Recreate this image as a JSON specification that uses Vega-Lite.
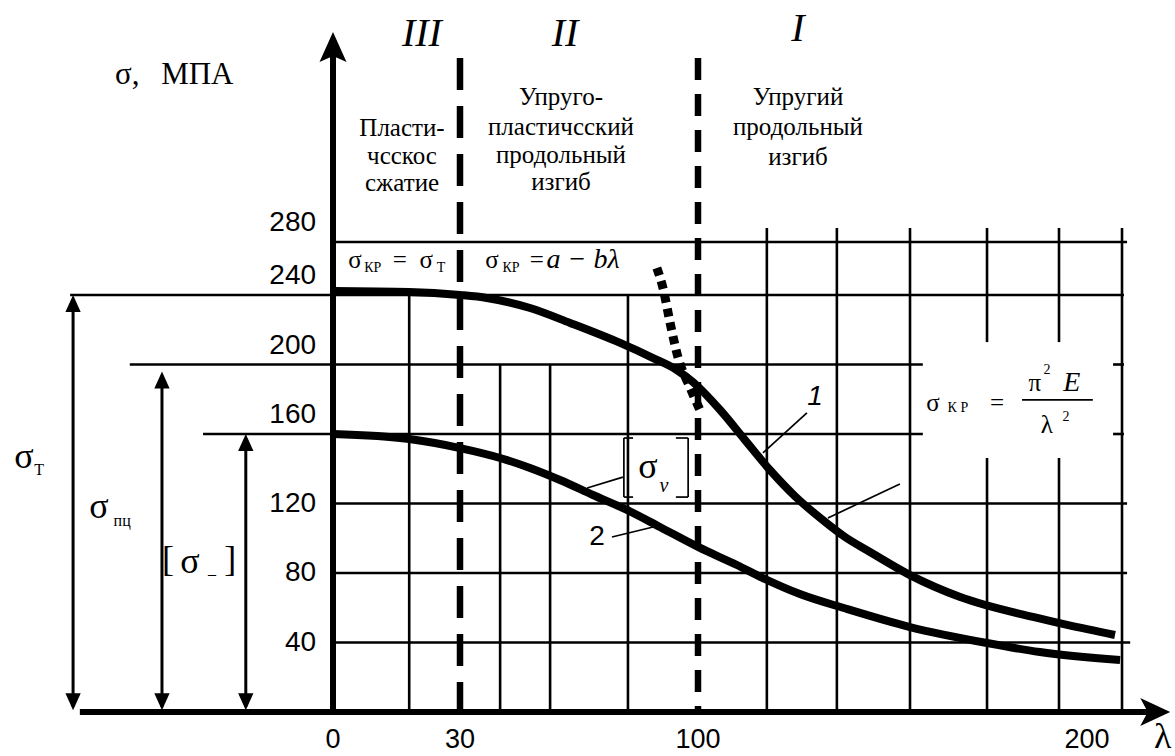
{
  "$schema": "https://vega.github.io/schema/vega-lite/v6.json",
  "width": 1175,
  "height": 756,
  "autosize": {"type": "none"},
  "padding": 0,
  "background": "white",
  "config": {"view": {"stroke": null}},
  "datasets": {
    "grid": [
      {"l": 18, "s": 0, "l2": 18, "s2": 240},
      {"l": 41.8, "s": 0, "l2": 41.8, "s2": 200},
      {"l": 56.5, "s": 0, "l2": 56.5, "s2": 200},
      {"l": 79.4, "s": 0, "l2": 79.4, "s2": 240},
      {"l": 117.7, "s": 0, "l2": 117.7, "s2": 290.6},
      {"l": 135.7, "s": 0, "l2": 135.7, "s2": 290.6},
      {"l": 154.5, "s": 0, "l2": 154.5, "s2": 290.6},
      {"l": 174.3, "s": 0, "l2": 174.3, "s2": 146.2},
      {"l": 174.3, "s": 212.9, "l2": 174.3, "s2": 290.6},
      {"l": 192.8, "s": 0, "l2": 192.8, "s2": 146.2},
      {"l": 192.8, "s": 212.9, "l2": 192.8, "s2": 290.6},
      {"l": 209, "s": 0, "l2": 209, "s2": 290.6},
      {"l": 0, "s": 280, "l2": 210.3, "s2": 280},
      {"l": -62.1, "s": 240, "l2": 209.5, "s2": 240},
      {"l": -48, "s": 200, "l2": 157.8, "s2": 200},
      {"l": 206.7, "s": 200, "l2": 209.5, "s2": 200},
      {"l": -30.7, "s": 160, "l2": 157.8, "s2": 160},
      {"l": 206.7, "s": 160, "l2": 209.5, "s2": 160},
      {"l": 0, "s": 120, "l2": 210.3, "s2": 120},
      {"l": 0, "s": 80, "l2": 210.3, "s2": 80},
      {"l": 0, "s": 40, "l2": 211.1, "s2": 40}
    ],
    "axes": [
      {"l": 0, "s": 0, "l2": 0, "s2": 425},
      {"l": -59.8, "s": 0, "l2": 216, "s2": 0}
    ],
    "shafts": [
      {"l": -61.4, "s": 3, "l2": -61.4, "s2": 235},
      {"l": -40.4, "s": 3, "l2": -40.4, "s2": 191},
      {"l": -20.6, "s": 3, "l2": -20.6, "s2": 155}
    ],
    "headsUp": [
      {"l": -61.4, "s": 240},
      {"l": -40.4, "s": 196},
      {"l": -20.6, "s": 160}
    ],
    "headsDown": [
      {"l": -61.4, "s": 1},
      {"l": -40.4, "s": 1},
      {"l": -20.6, "s": 1}
    ],
    "yTip": [{"l": 0, "s": 438.5}],
    "xTip": [{"l": 221.4, "s": 0}],
    "dash30": [{"l": 30, "s": 418.9, "l2": 30, "s2": 0}],
    "dash100": [{"l": 100, "s": 418.9, "l2": 100, "s2": 0}],
    "curves": [
      {"c": "1", "l": 0, "s": 243},
      {"c": "1", "l": 18, "s": 242.3},
      {"c": "1", "l": 30, "s": 240},
      {"c": "1", "l": 37.9, "s": 238.3},
      {"c": "1", "l": 50.6, "s": 232.5},
      {"c": "1", "l": 62.4, "s": 223.9},
      {"c": "1", "l": 77.1, "s": 212.4},
      {"c": "1", "l": 86.8, "s": 203.7},
      {"c": "1", "l": 93.8, "s": 196.8},
      {"c": "1", "l": 98.5, "s": 189.9},
      {"c": "1", "l": 105.7, "s": 173.8},
      {"c": "1", "l": 112.1, "s": 156.5},
      {"c": "1", "l": 118.5, "s": 139.3},
      {"c": "1", "l": 124.9, "s": 124.3},
      {"c": "1", "l": 131.4, "s": 111.7},
      {"c": "1", "l": 137.8, "s": 100.7},
      {"c": "1", "l": 144.2, "s": 92.1},
      {"c": "1", "l": 154.5, "s": 78.8},
      {"c": "1", "l": 167.4, "s": 66.2},
      {"c": "1", "l": 186.1, "s": 54.7},
      {"c": "1", "l": 194.9, "s": 50.1},
      {"c": "1", "l": 207.2, "s": 44.3},
      {"c": "2", "l": 0, "s": 160},
      {"c": "2", "l": 18, "s": 157.1},
      {"c": "2", "l": 30, "s": 151.9},
      {"c": "2", "l": 41.8, "s": 146.2},
      {"c": "2", "l": 50.6, "s": 140.4},
      {"c": "2", "l": 59.4, "s": 133.5},
      {"c": "2", "l": 69.1, "s": 124.9},
      {"c": "2", "l": 79.1, "s": 116.3},
      {"c": "2", "l": 88.8, "s": 106.5},
      {"c": "2", "l": 100, "s": 95},
      {"c": "2", "l": 110, "s": 84.6},
      {"c": "2", "l": 116.7, "s": 77.1},
      {"c": "2", "l": 126.2, "s": 67.9},
      {"c": "2", "l": 138.3, "s": 59.3},
      {"c": "2", "l": 154.5, "s": 48.9},
      {"c": "2", "l": 174.3, "s": 39.7},
      {"c": "2", "l": 187.9, "s": 34.5},
      {"c": "2", "l": 208.5, "s": 29.9}
    ],
    "euler": [
      {"l": 87.9, "s": 260.4},
      {"l": 89.7, "s": 245.3},
      {"l": 91.8, "s": 223.9},
      {"l": 94.1, "s": 204.3},
      {"l": 97.6, "s": 187},
      {"l": 100.5, "s": 173.8}
    ],
    "thin": [
      {"l": 128.0, "s": 172.1, "l2": 116.7, "s2": 149.1},
      {"l": 151.9, "s": 131.2, "l2": 133.4, "s2": 111.7},
      {"l": 77.9, "s": 135.2, "l2": 67.4, "s2": 128.9},
      {"l": 74.7, "s": 100.7, "l2": 86.8, "s2": 106.5},
      {"l": 78.2, "s": 157.7, "l2": 78.2, "s2": 123.7},
      {"l": 78.2, "s": 157.7, "l2": 80.9, "s2": 157.7},
      {"l": 78.2, "s": 123.7, "l2": 80.9, "s2": 123.7},
      {"l": 97.1, "s": 157.7, "l2": 97.1, "s2": 123.7},
      {"l": 93.5, "s": 157.7, "l2": 97.1, "s2": 157.7},
      {"l": 93.5, "s": 123.7, "l2": 97.1, "s2": 123.7},
      {"l": 183.3, "s": 179.6, "l2": 201.5, "s2": 179.6}
    ],
    "zone": [
      {"l": 16.3, "s": 366.0, "t": "Пласти-"},
      {"l": 16.3, "s": 344.9, "t": "чсскос"},
      {"l": 16.3, "s": 324.5, "t": "сжатие"},
      {"l": 59.7, "s": 389.4, "t": "Упруго-"},
      {"l": 59.7, "s": 366.8, "t": "пластичсский"},
      {"l": 59.7, "s": 345.7, "t": "продольный"},
      {"l": 59.7, "s": 325.3, "t": "изгиб"},
      {"l": 125.7, "s": 389.4, "t": "Упругий"},
      {"l": 125.7, "s": 366.8, "t": "продольный"},
      {"l": 125.7, "s": 344.2, "t": "изгиб"}
    ],
    "roman": [
      {"l": 21.0, "s": 437.0, "t": "III"},
      {"l": 60.9, "s": 437.0, "t": "II"},
      {"l": 125.7, "s": 440.8, "t": "I"}
    ],
    "unit": [
      {"l": -51.5, "s": 406.0, "t": "σ,"},
      {"l": -40.6, "s": 406.0, "t": "МПА"}
    ],
    "fmain": [
      {"l": 5.2, "s": 266.4, "t": "σ"},
      {"l": 15.8, "s": 266.4, "t": "="},
      {"l": 22.0, "s": 266.4, "t": "σ"},
      {"l": 39.4, "s": 266.4, "t": "σ"},
      {"l": 52.6, "s": 266.4, "t": "="},
      {"l": 160.4, "s": 177.8, "t": "σ"},
      {"l": 176.9, "s": 177.8, "t": "="},
      {"l": 186.6, "s": 189.3, "t": "π"},
      {"l": 189.7, "s": 165.2, "t": "λ"}
    ],
    "fsub": [
      {"l": 9.4, "s": 260.4, "t": "КР"},
      {"l": 25.5, "s": 260.4, "t": "Т"},
      {"l": 45.0, "s": 260.4, "t": "КР"},
      {"l": 166.8, "s": 175.0, "t": "К Р"},
      {"l": 189.7, "s": 196.8, "t": "2"},
      {"l": 194.6, "s": 169.8, "t": "2"}
    ],
    "fital": [
      {"l": 66.2, "s": 266.4, "t": "a − bλ"},
      {"l": 196.1, "s": 189.3, "t": "E"}
    ],
    "ticksUpper": [
      {"l": -4, "s": 280, "t": "280"},
      {"l": -4, "s": 240, "t": "240"},
      {"l": -4, "s": 200, "t": "200"},
      {"l": -4, "s": 160, "t": "160"}
    ],
    "ticksLower": [
      {"l": -4, "s": 120, "t": "120"},
      {"l": -4, "s": 80, "t": "80"},
      {"l": -4, "s": 40, "t": "40"}
    ],
    "ticksX": [
      {"l": 0, "s": 0, "t": "0"},
      {"l": 30, "s": 0, "t": "30"},
      {"l": 100, "s": 0, "t": "100"},
      {"l": 200, "s": 0, "t": "200"}
    ],
    "num1": [{"l": 130.1, "s": 181.3, "t": "1"}],
    "num2": [{"l": 70.3, "s": 100.7, "t": "2"}],
    "big": [
      {"l": -73.0, "s": 146.8, "t": "σ"},
      {"l": -55.3, "s": 118.0, "t": "σ"},
      {"l": -33.8, "s": 86.3, "t": "σ"},
      {"l": -39.0, "s": 87.5, "t": "["},
      {"l": -24.3, "s": 87.5, "t": "]"},
      {"l": 85.3, "s": 141.0, "t": "σ"},
      {"l": 219.5, "s": -14.5, "t": "λ"}
    ],
    "bigsub": [
      {"l": -69.4, "s": 139.3, "t": "Т"},
      {"l": -49.8, "s": 109.9, "t": "пц"},
      {"l": -28.6, "s": 79.4, "t": "–"}
    ],
    "nu": [{"l": 90.0, "s": 130.1, "t": "ν"}]
  },
  "encoding": {
    "x": {"field": "l", "type": "quantitative", "axis": null,
          "scale": {"domain": [0, 30, 100, 200], "range": [333, 460, 698, 1087], "nice": false, "zero": false}},
    "y": {"field": "s", "type": "quantitative", "axis": null,
          "scale": {"domain": [0, 240, 280], "range": [712, 295, 242], "nice": false, "zero": false}}
  },
  "layer": [
    {"data": {"name": "grid"}, "mark": {"type": "rule", "color": "black", "strokeWidth": 2.6},
     "encoding": {"x2": {"field": "l2"}, "y2": {"field": "s2"}}},
    {"data": {"name": "thin"}, "mark": {"type": "rule", "color": "black", "strokeWidth": 1.7},
     "encoding": {"x2": {"field": "l2"}, "y2": {"field": "s2"}}},
    {"data": {"name": "shafts"}, "mark": {"type": "rule", "color": "black", "strokeWidth": 3},
     "encoding": {"x2": {"field": "l2"}, "y2": {"field": "s2"}}},
    {"data": {"name": "headsUp"}, "mark": {"type": "point", "filled": true, "fill": "black", "opacity": 1, "strokeWidth": 0, "size": 1156, "shape": "M0,0L-0.45,1L0.45,1Z"}},
    {"data": {"name": "headsDown"}, "mark": {"type": "point", "filled": true, "fill": "black", "opacity": 1, "strokeWidth": 0, "size": 1156, "shape": "M0,0L-0.45,-1L0.45,-1Z"}},
    {"data": {"name": "dash30"}, "mark": {"type": "rule", "color": "black", "strokeWidth": 6.5, "strokeDash": [32, 16]},
     "encoding": {"x2": {"field": "l2"}, "y2": {"field": "s2"}}},
    {"data": {"name": "dash100"}, "mark": {"type": "rule", "color": "black", "strokeWidth": 6.5, "strokeDash": [22, 14]},
     "encoding": {"x2": {"field": "l2"}, "y2": {"field": "s2"}}},
    {"data": {"name": "curves"}, "mark": {"type": "line", "color": "black", "strokeWidth": 8, "interpolate": "monotone"},
     "encoding": {"detail": {"field": "c"}}},
    {"data": {"name": "euler"}, "mark": {"type": "line", "color": "black", "strokeWidth": 9, "strokeDash": [8, 6], "interpolate": "monotone"},
     "encoding": {}},
    {"data": {"name": "axes"}, "mark": {"type": "rule", "color": "black", "strokeWidth": 6},
     "encoding": {"x2": {"field": "l2"}, "y2": {"field": "s2"}}},
    {"data": {"name": "yTip"}, "mark": {"type": "point", "filled": true, "fill": "black", "opacity": 1, "strokeWidth": 0, "size": 3600, "shape": "M0,0L-0.45,1L0,0.8L0.45,1Z"}},
    {"data": {"name": "xTip"}, "mark": {"type": "point", "filled": true, "fill": "black", "opacity": 1, "strokeWidth": 0, "size": 3600, "shape": "M0,0L-1,-0.47L-0.75,0L-1,0.47Z"}},
    {"data": {"name": "zone"}, "mark": {"type": "text", "font": "'Liberation Serif', 'DejaVu Serif', serif", "fontSize": 25, "align": "center", "baseline": "middle", "color": "black"},
     "encoding": {"text": {"field": "t"}}},
    {"data": {"name": "roman"}, "mark": {"type": "text", "font": "'Liberation Serif', 'DejaVu Serif', serif", "fontStyle": "italic", "fontSize": 40, "align": "center", "baseline": "middle", "color": "black"},
     "encoding": {"text": {"field": "t"}}},
    {"data": {"name": "unit"}, "mark": {"type": "text", "font": "'Liberation Serif', 'DejaVu Serif', serif", "fontSize": 31, "align": "left", "baseline": "middle", "color": "black"},
     "encoding": {"text": {"field": "t"}}},
    {"data": {"name": "fmain"}, "mark": {"type": "text", "font": "'Liberation Serif', 'DejaVu Serif', serif", "fontSize": 25, "align": "center", "baseline": "middle", "color": "black"},
     "encoding": {"text": {"field": "t"}}},
    {"data": {"name": "fsub"}, "mark": {"type": "text", "font": "'Liberation Serif', 'DejaVu Serif', serif", "fontSize": 14, "align": "center", "baseline": "middle", "color": "black"},
     "encoding": {"text": {"field": "t"}}},
    {"data": {"name": "fital"}, "mark": {"type": "text", "font": "'Liberation Serif', 'DejaVu Serif', serif", "fontStyle": "italic", "fontSize": 28, "align": "center", "baseline": "middle", "color": "black"},
     "encoding": {"text": {"field": "t"}}},
    {"data": {"name": "ticksUpper"}, "mark": {"type": "text", "font": "'Liberation Sans', Arial, sans-serif", "fontSize": 28, "align": "right", "baseline": "middle", "dy": -19, "color": "black"},
     "encoding": {"text": {"field": "t"}}},
    {"data": {"name": "ticksLower"}, "mark": {"type": "text", "font": "'Liberation Sans', Arial, sans-serif", "fontSize": 28, "align": "right", "baseline": "middle", "color": "black"},
     "encoding": {"text": {"field": "t"}}},
    {"data": {"name": "ticksX"}, "mark": {"type": "text", "font": "'Liberation Sans', Arial, sans-serif", "fontSize": 27, "align": "center", "baseline": "middle", "dy": 28, "color": "black"},
     "encoding": {"text": {"field": "t"}}},
    {"data": {"name": "num1"}, "mark": {"type": "text", "font": "'Liberation Sans', Arial, sans-serif", "fontStyle": "italic", "fontSize": 28, "align": "center", "baseline": "middle", "color": "black"},
     "encoding": {"text": {"field": "t"}}},
    {"data": {"name": "num2"}, "mark": {"type": "text", "font": "'Liberation Sans', Arial, sans-serif", "fontSize": 28, "align": "center", "baseline": "middle", "color": "black"},
     "encoding": {"text": {"field": "t"}}},
    {"data": {"name": "big"}, "mark": {"type": "text", "font": "'Liberation Serif', 'DejaVu Serif', serif", "fontSize": 36, "align": "center", "baseline": "middle", "color": "black"},
     "encoding": {"text": {"field": "t"}}},
    {"data": {"name": "bigsub"}, "mark": {"type": "text", "font": "'Liberation Serif', 'DejaVu Serif', serif", "fontSize": 16, "align": "center", "baseline": "middle", "color": "black"},
     "encoding": {"text": {"field": "t"}}},
    {"data": {"name": "nu"}, "mark": {"type": "text", "font": "'Liberation Serif', 'DejaVu Serif', serif", "fontStyle": "italic", "fontSize": 20, "align": "center", "baseline": "middle", "color": "black"},
     "encoding": {"text": {"field": "t"}}}
  ]
}
